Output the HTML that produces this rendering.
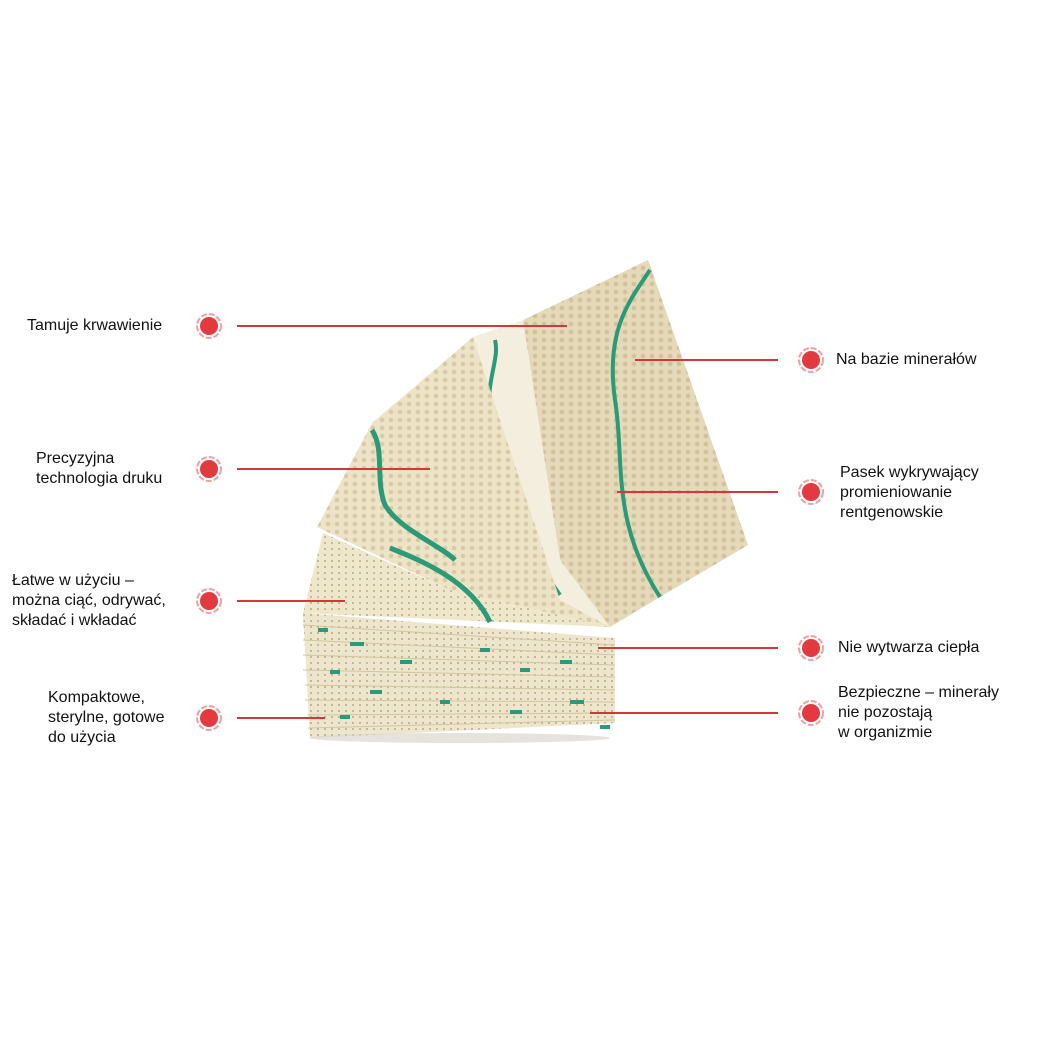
<!DOCTYPE html>
<html><head><meta charset="utf-8"><style>
body{margin:0;background:#fff;}
.wrap{position:relative;width:1040px;height:1040px;overflow:hidden;font-family:"Liberation Sans",sans-serif;font-size:16px;color:#111;}
.t{position:absolute;line-height:20px;}
</style></head><body><div class="wrap">
<svg width="1040" height="1040" style="position:absolute;left:0;top:0">
<defs>
<pattern id="dots" width="9" height="8" patternUnits="userSpaceOnUse"><circle cx="4" cy="4" r="2.3" fill="#cdbb91" opacity="0.8"/></pattern>
<pattern id="sd" width="7" height="6" patternUnits="userSpaceOnUse"><circle cx="3" cy="3" r="0.9" fill="#a99870"/></pattern>
<linearGradient id="g1" x1="0" y1="0" x2="1" y2="1"><stop offset="0" stop-color="#e6dcbf"/><stop offset="1" stop-color="#ddd0ac"/></linearGradient>
</defs>
<!-- back sheet -->
<polygon points="523,320 648,260 748,545 660,597 610,627 560,560" fill="#e4d9b9"/>
<polygon points="523,320 648,260 748,545 660,597 610,627 560,560" fill="url(#dots)"/>
<path d="M650,270 C630,300 605,330 615,400 C625,460 610,520 660,597" stroke="#2a9a78" stroke-width="4" fill="none"/>
<!-- white strip -->
<polygon points="473,337 523,320 560,560 610,627 560,600 500,420" fill="#f3eedd"/>
<path d="M495,340 C500,360 485,380 490,420 C500,480 520,540 560,595" stroke="#2a9a78" stroke-width="4" fill="none"/>
<!-- middle sheet -->
<polygon points="473,337 500,420 560,600 610,627 450,590 317,527 372,423" fill="#ede4c8"/>
<polygon points="473,337 500,420 560,600 610,627 450,590 317,527 372,423" fill="url(#dots)" opacity="0.8"/>
<path d="M372,430 C385,450 375,480 385,505 C400,530 440,545 455,560" stroke="#2a9a78" stroke-width="5" fill="none"/>
<!-- front sheet -->
<polygon points="323,533 450,590 610,627 303,613" fill="#efe7cc"/>
<polygon points="323,533 450,590 610,627 303,613" fill="url(#sd)"/>
<path d="M390,548 C420,560 470,580 490,622" stroke="#2a9a78" stroke-width="5" fill="none"/>
<!-- stack -->
<polygon points="303,613 615,638 615,723 310,738" fill="#ede5cc"/>
<polygon points="303,613 615,638 615,723 310,738" fill="url(#sd)"/>
<g stroke="#d2c5a0" stroke-width="1">
<line x1="303" y1="625" x2="615" y2="645"/><line x1="303" y1="640" x2="615" y2="655"/><line x1="303" y1="655" x2="615" y2="665"/><line x1="303" y1="670" x2="615" y2="677"/><line x1="305" y1="685" x2="615" y2="690"/><line x1="305" y1="700" x2="615" y2="702"/><line x1="307" y1="715" x2="615" y2="713"/><line x1="308" y1="728" x2="615" y2="720"/>
</g>
<g fill="#2a9a78">
<rect x="318" y="628" width="10" height="4"/><rect x="350" y="642" width="14" height="4"/><rect x="400" y="660" width="12" height="4"/><rect x="480" y="648" width="10" height="4"/><rect x="520" y="668" width="10" height="4"/><rect x="560" y="660" width="12" height="4"/><rect x="370" y="690" width="12" height="4"/><rect x="440" y="700" width="10" height="4"/><rect x="510" y="710" width="12" height="4"/><rect x="570" y="700" width="14" height="4"/><rect x="340" y="715" width="10" height="4"/><rect x="600" y="725" width="10" height="4"/><rect x="330" y="670" width="10" height="4"/>
</g>
<ellipse cx="460" cy="738" rx="150" ry="5" fill="#d5d0c8" opacity="0.6"/>
<!-- lines -->
<g stroke="#d8353a" stroke-width="2">
<line x1="237" y1="326" x2="567" y2="326"/>
<line x1="237" y1="469" x2="430" y2="469"/>
<line x1="237" y1="601" x2="345" y2="601"/>
<line x1="237" y1="718" x2="325" y2="718"/>
<line x1="635" y1="360" x2="778" y2="360"/>
<line x1="617" y1="492" x2="778" y2="492"/>
<line x1="598" y1="648" x2="778" y2="648"/>
<line x1="590" y1="713" x2="778" y2="713"/>
</g>
<g id="d">
</g>
<g fill="#e23a3e">
<circle cx="209" cy="326" r="9"/><circle cx="209" cy="469" r="9"/><circle cx="209" cy="601" r="9"/><circle cx="209" cy="718" r="9"/>
<circle cx="811" cy="360" r="9"/><circle cx="811" cy="492" r="9"/><circle cx="811" cy="648" r="9"/><circle cx="811" cy="713" r="9"/>
</g>
<g fill="none" stroke="#f0a0a2" stroke-width="2" stroke-dasharray="6 2">
<circle cx="209" cy="326" r="12"/><circle cx="209" cy="469" r="12"/><circle cx="209" cy="601" r="12"/><circle cx="209" cy="718" r="12"/>
<circle cx="811" cy="360" r="12"/><circle cx="811" cy="492" r="12"/><circle cx="811" cy="648" r="12"/><circle cx="811" cy="713" r="12"/>
</g>
</svg>
<div class="t" style="left:27px;top:316px">Tamuje krwawienie</div>
<div class="t" style="left:36px;top:449px">Precyzyjna<br>technologia druku</div>
<div class="t" style="left:12px;top:571px">Łatwe w użyciu –<br>można ciąć, odrywać,<br>składać i wkładać</div>
<div class="t" style="left:48px;top:688px">Kompaktowe,<br>sterylne, gotowe<br>do użycia</div>
<div class="t" style="left:836px;top:350px">Na bazie minerałów</div>
<div class="t" style="left:840px;top:463px">Pasek wykrywający<br>promieniowanie<br>rentgenowskie</div>
<div class="t" style="left:838px;top:638px">Nie wytwarza ciepła</div>
<div class="t" style="left:838px;top:683px">Bezpieczne – minerały<br>nie pozostają<br>w organizmie</div>
</div></body></html>
